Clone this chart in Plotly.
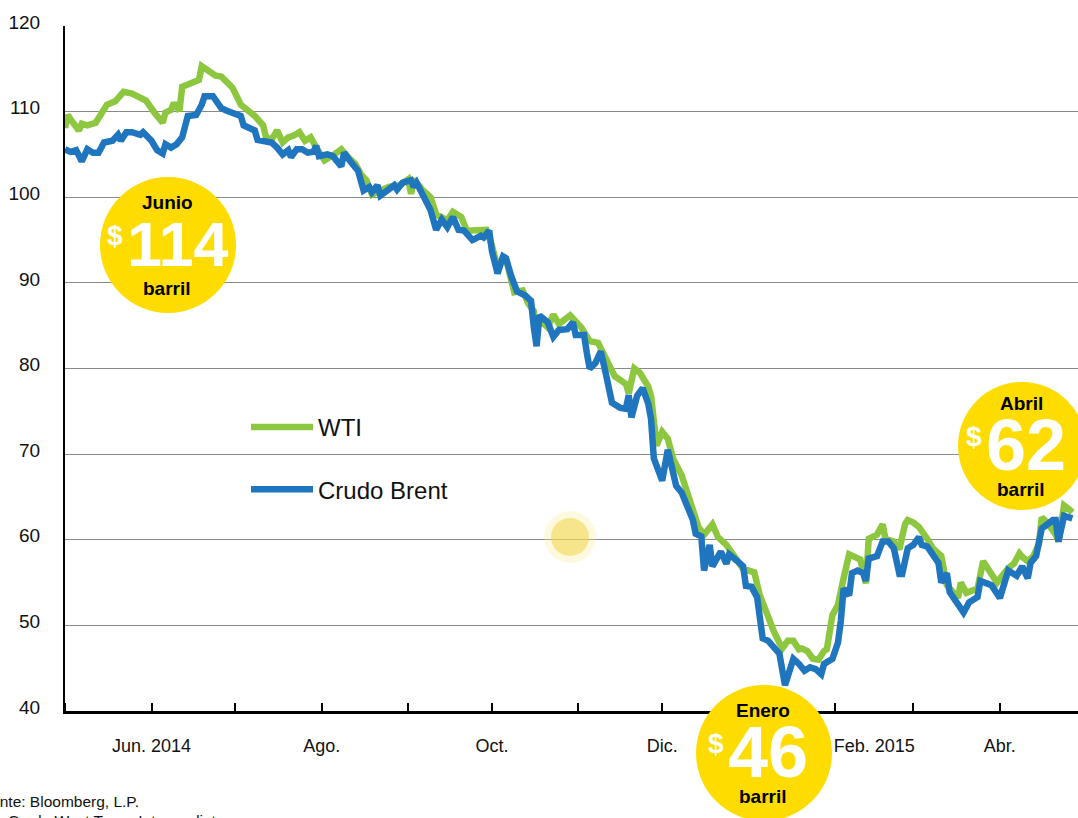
import plotly.graph_objects as go

# ---------------- data ----------------
wti_dates = [
    "2014-05-01", "2014-05-02", "2014-05-03", "2014-05-06", "2014-05-07", "2014-05-09",
    "2014-05-12", "2014-05-14", "2014-05-16", "2014-05-19", "2014-05-22", "2014-05-25",
    "2014-05-29", "2014-05-30", "2014-06-02", "2014-06-05", "2014-06-06", "2014-06-08",
    "2014-06-09", "2014-06-11", "2014-06-12", "2014-06-16", "2014-06-18", "2014-06-19",
    "2014-06-22", "2014-06-24", "2014-06-26", "2014-06-28", "2014-06-30", "2014-07-03",
    "2014-07-06", "2014-07-08", "2014-07-11", "2014-07-12", "2014-07-14", "2014-07-16",
    "2014-07-18", "2014-07-20", "2014-07-22", "2014-07-24", "2014-07-26", "2014-07-28",
    "2014-07-30", "2014-08-02", "2014-08-05", "2014-08-08", "2014-08-11", "2014-08-13",
    "2014-08-15", "2014-08-17", "2014-08-19", "2014-08-23", "2014-08-25", "2014-08-29",
    "2014-09-01", "2014-09-02", "2014-09-03", "2014-09-06", "2014-09-09", "2014-09-11",
    "2014-09-15", "2014-09-17", "2014-09-20", "2014-09-22", "2014-09-26", "2014-09-29",
    "2014-10-01", "2014-10-03", "2014-10-05", "2014-10-06", "2014-10-09", "2014-10-12",
    "2014-10-14", "2014-10-16", "2014-10-17", "2014-10-18", "2014-10-21", "2014-10-23",
    "2014-10-25", "2014-10-29", "2014-11-02", "2014-11-05", "2014-11-08", "2014-11-09",
    "2014-11-12", "2014-11-14", "2014-11-18", "2014-11-19", "2014-11-21", "2014-11-23",
    "2014-11-26", "2014-11-27", "2014-11-29", "2014-12-01", "2014-12-03", "2014-12-05",
    "2014-12-08", "2014-12-10", "2014-12-11", "2014-12-14", "2014-12-16", "2014-12-19",
    "2014-12-21", "2014-12-24", "2014-12-26", "2014-12-30", "2015-01-03", "2015-01-05",
    "2015-01-08", "2015-01-10", "2015-01-13", "2015-01-15", "2015-01-17", "2015-01-19",
    "2015-01-20", "2015-01-22", "2015-01-24", "2015-01-26", "2015-01-28", "2015-01-29",
    "2015-01-31", "2015-02-02", "2015-02-04", "2015-02-06", "2015-02-10", "2015-02-12",
    "2015-02-13", "2015-02-16", "2015-02-18", "2015-02-19", "2015-02-22", "2015-02-24",
    "2015-02-26", "2015-02-27", "2015-03-01", "2015-03-03", "2015-03-06", "2015-03-08",
    "2015-03-11", "2015-03-13", "2015-03-17", "2015-03-18", "2015-03-20", "2015-03-24",
    "2015-03-26", "2015-03-29", "2015-03-31", "2015-04-04", "2015-04-06", "2015-04-08",
    "2015-04-09", "2015-04-11", "2015-04-13", "2015-04-15", "2015-04-16", "2015-04-18",
    "2015-04-21", "2015-04-22", "2015-04-24", "2015-04-26", "2015-04-27",
]
wti_values = [
    108.1, 109.6, 109.1, 107.8, 108.6, 108.4,
    108.7, 109.9, 110.8, 111.2, 112.3, 112.1,
    111.6, 111.3, 109.9, 108.7, 109.9, 110.2,
    111.0, 110.1, 112.9, 113.4, 113.7, 115.3,
    114.6, 114.2, 114.1, 113.4, 112.8, 110.8,
    110.1, 109.5, 108.4, 107.0, 106.7, 107.8,
    106.4, 107.0, 107.2, 107.6, 106.6, 107.0,
    105.8, 104.3, 104.9, 105.6, 104.5, 103.9,
    102.7, 102.0, 100.3, 100.9, 101.2, 101.4,
    102.1, 100.4, 102.1, 100.9, 100.0, 98.0,
    97.3, 98.3, 97.7, 96.1, 96.1, 96.2,
    94.3, 91.8, 93.0, 92.8, 88.9, 89.1,
    87.6, 86.7, 84.0, 85.7, 84.8, 86.3,
    85.2, 86.2, 84.8, 83.2, 83.0, 82.3,
    80.2, 79.1, 78.2, 77.1, 80.0, 79.5,
    77.9, 76.8, 71.0, 72.6, 71.8, 69.4,
    67.5, 65.7, 64.5, 61.5, 60.6, 61.8,
    60.3, 59.4, 58.4, 56.6, 56.2, 53.5,
    51.0, 49.3, 47.3, 48.2, 48.2, 47.2,
    47.3, 47.0, 46.1, 46.0, 47.0, 47.2,
    51.2, 52.4, 55.5, 58.3, 57.7, 54.9,
    60.1, 60.6, 61.8, 60.1, 59.8, 58.9,
    61.8, 62.3, 62.0, 61.5, 60.1, 59.0,
    58.1, 54.7, 53.2, 55.0, 53.8, 54.3,
    57.5, 55.8, 55.0, 56.7, 57.2, 58.4,
    58.0, 57.5, 58.1, 59.5, 62.6, 62.0,
    60.6, 59.8, 64.0, 63.5, 63.2,
]

brent_dates = [
    "2014-05-01", "2014-05-03", "2014-05-05", "2014-05-07", "2014-05-09", "2014-05-11",
    "2014-05-13", "2014-05-15", "2014-05-18", "2014-05-20", "2014-05-21", "2014-05-23",
    "2014-05-25", "2014-05-28", "2014-05-29", "2014-06-01", "2014-06-03", "2014-06-05",
    "2014-06-06", "2014-06-08", "2014-06-10", "2014-06-12", "2014-06-14", "2014-06-17",
    "2014-06-19", "2014-06-20", "2014-06-23", "2014-06-25", "2014-06-26", "2014-06-28",
    "2014-06-30", "2014-07-03", "2014-07-04", "2014-07-06", "2014-07-08", "2014-07-09",
    "2014-07-11", "2014-07-14", "2014-07-16", "2014-07-18", "2014-07-20", "2014-07-21",
    "2014-07-23", "2014-07-25", "2014-07-27", "2014-07-29", "2014-07-30", "2014-07-31",
    "2014-08-03", "2014-08-05", "2014-08-08", "2014-08-09", "2014-08-11", "2014-08-14",
    "2014-08-16", "2014-08-18", "2014-08-19", "2014-08-21", "2014-08-22", "2014-08-24",
    "2014-08-27", "2014-08-28", "2014-08-30", "2014-09-02", "2014-09-03", "2014-09-04",
    "2014-09-06", "2014-09-08", "2014-09-09", "2014-09-11", "2014-09-13", "2014-09-15",
    "2014-09-17", "2014-09-19", "2014-09-21", "2014-09-24", "2014-09-27", "2014-09-28",
    "2014-09-30", "2014-10-01", "2014-10-03", "2014-10-05", "2014-10-06", "2014-10-08",
    "2014-10-10", "2014-10-13", "2014-10-15", "2014-10-16", "2014-10-17", "2014-10-18",
    "2014-10-21", "2014-10-23", "2014-10-25", "2014-10-28", "2014-10-30", "2014-10-31",
    "2014-11-03", "2014-11-04", "2014-11-05", "2014-11-07", "2014-11-08", "2014-11-09",
    "2014-11-11", "2014-11-13", "2014-11-16", "2014-11-18", "2014-11-19", "2014-11-20",
    "2014-11-22", "2014-11-24", "2014-11-26", "2014-11-27", "2014-11-28", "2014-11-30",
    "2014-12-01", "2014-12-03", "2014-12-05", "2014-12-06", "2014-12-08", "2014-12-10",
    "2014-12-12", "2014-12-13", "2014-12-15", "2014-12-16", "2014-12-18", "2014-12-19",
    "2014-12-22", "2014-12-24", "2014-12-25", "2014-12-28", "2014-12-30", "2014-12-31",
    "2015-01-02", "2015-01-04", "2015-01-06", "2015-01-08", "2015-01-11", "2015-01-12",
    "2015-01-14", "2015-01-16", "2015-01-17", "2015-01-19", "2015-01-21", "2015-01-23",
    "2015-01-25", "2015-01-27", "2015-01-28", "2015-01-31", "2015-02-02", "2015-02-03",
    "2015-02-04", "2015-02-06", "2015-02-07", "2015-02-09", "2015-02-11", "2015-02-12",
    "2015-02-13", "2015-02-16", "2015-02-18", "2015-02-20", "2015-02-22", "2015-02-24",
    "2015-02-25", "2015-02-27", "2015-03-01", "2015-03-03", "2015-03-04", "2015-03-06",
    "2015-03-08", "2015-03-10", "2015-03-11", "2015-03-13", "2015-03-14", "2015-03-17",
    "2015-03-19", "2015-03-21", "2015-03-24", "2015-03-25", "2015-03-27", "2015-03-29",
    "2015-04-01", "2015-04-04", "2015-04-06", "2015-04-07", "2015-04-09", "2015-04-11",
    "2015-04-12", "2015-04-14", "2015-04-16", "2015-04-20", "2015-04-21", "2015-04-22",
    "2015-04-24", "2015-04-25", "2015-04-27",
]
brent_values = [
    105.6, 105.3, 105.5, 104.2, 105.6, 105.2,
    105.2, 106.4, 106.6, 107.3, 106.6, 107.6,
    107.6, 107.3, 107.6, 106.6, 105.5, 105.1,
    106.2, 105.8, 106.2, 107.0, 109.5, 109.6,
    110.8, 111.8, 111.8, 110.8, 110.4, 110.1,
    109.8, 109.5, 108.4, 108.1, 107.8, 106.7,
    106.6, 106.4, 105.8, 105.0, 105.5, 104.7,
    105.6, 105.6, 105.2, 105.3, 106.0, 104.8,
    105.0, 104.8, 103.6, 105.2, 104.3, 103.1,
    100.8, 101.2, 100.6, 101.4, 100.2, 100.6,
    101.4, 100.9, 101.7, 102.0, 101.2, 101.7,
    100.3, 99.2, 98.5, 96.2, 97.4, 96.5,
    97.7, 96.2, 96.1, 95.0, 95.5, 95.3,
    96.1, 93.7, 91.1, 93.1, 92.9, 90.7,
    89.0, 88.5, 87.9, 84.8, 82.6, 86.2,
    85.4, 83.7, 84.5, 84.6, 85.4, 83.9,
    83.9, 81.8, 80.0, 80.6, 81.4, 82.0,
    79.1, 76.0, 75.4, 75.3, 76.9, 74.3,
    76.8, 77.7, 75.9, 74.1, 69.5, 67.8,
    66.9, 70.5, 67.2, 66.3, 65.5, 64.0,
    62.3, 60.7, 60.4, 56.4, 59.4, 56.9,
    58.6, 57.2, 58.3, 57.5, 56.9, 54.6,
    54.5, 53.3, 48.5, 48.2, 47.2, 46.7,
    43.0, 44.9, 46.1, 45.5, 44.7, 45.1,
    44.9, 44.3, 45.5, 46.1, 48.0, 50.5,
    54.3, 53.5, 56.1, 56.4, 56.1, 55.2,
    57.8, 58.1, 59.8, 59.8, 59.0, 56.0,
    56.0, 59.0, 59.4, 60.3, 59.4, 59.2,
    58.3, 57.3, 55.0, 56.1, 53.9, 52.4,
    51.5, 52.7, 53.3, 55.2, 55.0, 54.7,
    53.2, 56.4, 56.0, 55.8, 56.9, 55.5,
    57.3, 58.1, 61.3, 62.3, 62.3, 59.8,
    62.8, 62.7, 62.5,
]

series_names = ["WTI", "Crudo Brent"]
x_tick_dates = ["2014-06-01", "2014-08-01", "2014-10-01", "2014-12-01", "2015-02-15", "2015-04-01"]
x_tick_labels = ["Jun. 2014", "Ago.", "Oct.", "Dic.", "Feb. 2015", "Abr."]
y_ticks = [40, 50, 60, 70, 80, 90, 100, 110, 120]

callouts = [
    {"month": "Junio", "price": "114"},
    {"month": "Enero", "price": "46"},
    {"month": "Abril", "price": "62"},
]

# ---------------- styling / layout ----------------
W, H = 1078, 818
ML, MR, MT, MB = 65, 0, 26, 107
PW, PH = W - ML - MR, H - MT - MB
FONT = "Liberation Sans, Arial, Helvetica, sans-serif"
GREEN = "#8DC63F"
BLUE = "#1F75BE"
YELLOW = "#FFDC00"


def paper(px, py):
    """pixel position in the page -> paper coordinates (decoration only)"""
    return (px - ML) / PW, (H - MB - py) / PH


fig = go.Figure()
fig.add_trace(go.Scatter(
    x=wti_dates, y=wti_values, mode="lines", name=series_names[0],
    legendgroup="wti", line=dict(color=GREEN, width=6.5, shape="linear"),
))
fig.add_trace(go.Scatter(
    x=brent_dates, y=brent_values, mode="lines", name=series_names[1],
    legendgroup="brent", line=dict(color=BLUE, width=6.5, shape="linear"),
))

shapes = []
annotations = []

# faint glow blob in the middle of the chart
for r, col in [(26, "rgba(250,235,150,0.30)"), (19, "rgba(242,214,70,0.55)")]:
    gx, gy = paper(570, 537)
    shapes.append(dict(type="circle", xref="paper", yref="paper",
                       xsizemode="pixel", ysizemode="pixel",
                       xanchor=gx, yanchor=gy, x0=-r, x1=r, y0=-r, y1=r,
                       fillcolor=col, line=dict(width=0), layer="above"))

# yellow price bubbles: (center x, center y, radius) in page pixels
bubble_geom = [(168, 245, 68), (764, 753, 68), (1022, 446, 64)]
for cfg, (cx, cy, r) in zip(callouts, bubble_geom):
    ax_, ay_ = paper(cx, cy)
    shapes.append(dict(type="circle", xref="paper", yref="paper",
                       xsizemode="pixel", ysizemode="pixel",
                       xanchor=ax_, yanchor=ay_, x0=-r, x1=r, y0=-r, y1=r,
                       fillcolor=YELLOW, line=dict(width=0), layer="above"))
    three = len(cfg["price"]) == 3
    items = [
        # text, dx, dy, font size, colour, box height
        (cfg["month"], -1, -43, 19, "black", 20),
        ("$", -53 if three else -48, -10, 28, "white", 28),
        (cfg["price"], 10 if three else 4, -1, 63 if three else 72, "white", 54),
        ("barril", -1, 43, 19, "black", 20),
    ]
    for txt, dx, dy, size, col, hgt in items:
        px_, py_ = paper(cx + dx, cy + dy)
        annotations.append(dict(xref="paper", yref="paper", x=px_, y=py_,
                                xanchor="center", yanchor="middle", showarrow=False,
                                text="<b>" + txt + "</b>", height=hgt, borderpad=0,
                                font=dict(family=FONT, size=size, color=col)))

# source note (partially cut off at page edge, as in the reference)
sx, sy = paper(-29, 801)
annotations.append(dict(xref="paper", yref="paper", x=sx, y=sy, xanchor="left",
                        yanchor="middle", showarrow=False, text="Fuente: Bloomberg, L.P.",
                        font=dict(family=FONT, size=15.5, color="#111")))
sx2, sy2 = paper(6, 820)
annotations.append(dict(xref="paper", yref="paper", x=sx2, y=sy2, xanchor="left",
                        yanchor="middle", showarrow=False, text="Crudo West Texas Intermediate",
                        font=dict(family=FONT, size=15.5, color="#111")))

lx, ly = paper(246, 405)
fig.update_layout(
    width=W, height=H, autosize=False,
    margin=dict(l=ML, r=MR, t=MT, b=MB, pad=0),
    paper_bgcolor="white", plot_bgcolor="white",
    font=dict(family=FONT, color="#111"),
    showlegend=True,
    legend=dict(x=lx, y=ly, xanchor="left", yanchor="top",
                bgcolor="rgba(0,0,0,0)", borderwidth=0,
                font=dict(family=FONT, size=24, color="#111"),
                tracegroupgap=28, itemwidth=62),
    xaxis=dict(type="date", range=["2014-05-01", "2015-04-29"],
               showgrid=False, zeroline=False,
               showline=True, linecolor="black", linewidth=2.5,
               tickmode="array", tickvals=x_tick_dates, ticktext=x_tick_labels,
               ticks="", ticklabelstandoff=17,
               tickfont=dict(family=FONT, size=18, color="#111"),
               minor=dict(ticks="inside", ticklen=8, tickwidth=2, tickcolor="black",
                          dtick="M1", tick0="2014-05-01", showgrid=False)),
    yaxis=dict(range=[40, 120], tickmode="array", tickvals=y_ticks,
               showgrid=True, gridcolor="#8a8a8a", gridwidth=1.4, zeroline=False,
               showline=True, linecolor="black", linewidth=2,
               ticks="", ticklabelstandoff=19, ticklabelshift=-4,
               tickfont=dict(family=FONT, size=19, color="#111")),
    shapes=shapes,
    annotations=annotations,
)

# remove the browser's default 8px page margin so the figure sits at the page corner
fig.write_html("out.html", config={"displayModeBar": False},
               post_script="document.body.style.margin='0';")
